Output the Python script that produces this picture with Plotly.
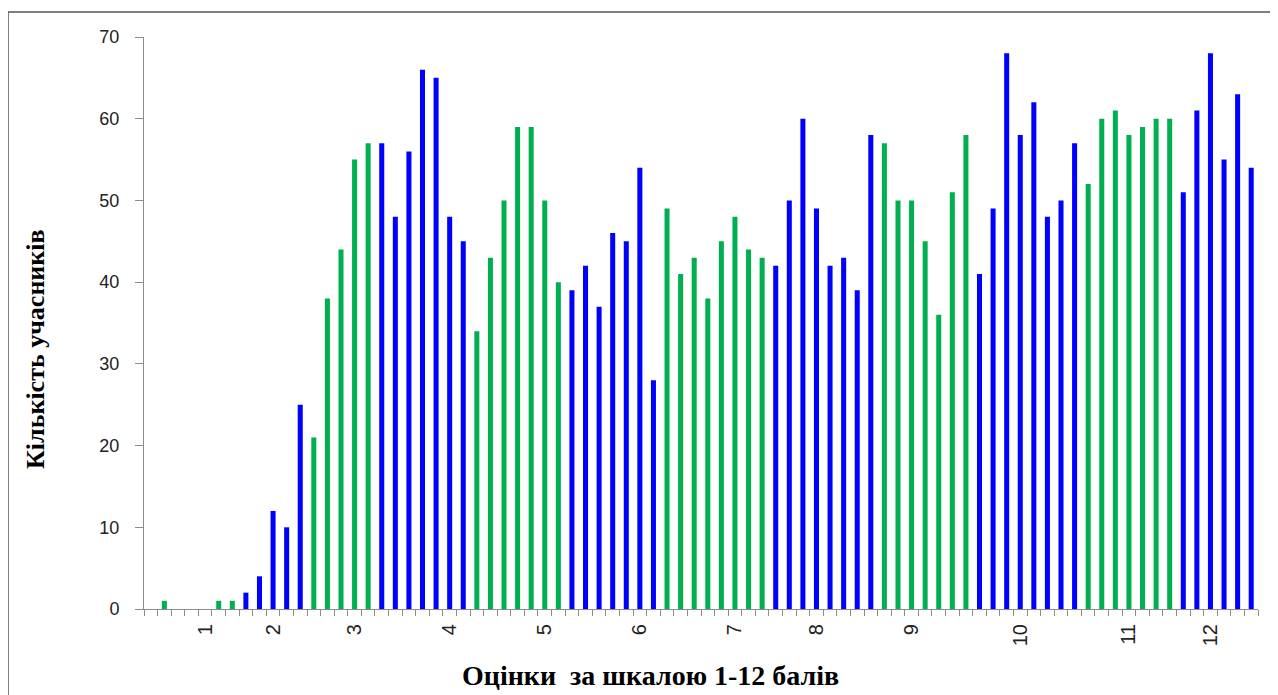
import plotly.graph_objects as go

# ---- data ----
counts = [0, 1, 0, 0, 0, 1, 1,
          2, 4, 12, 10, 25,
          21, 38, 44, 55, 57,
          57, 48, 56, 66, 65, 48, 45,
          34, 43, 50, 59, 59, 50, 40,
          39, 42, 37, 46, 45, 54, 28,
          49, 41, 43, 38, 45, 48, 44, 43,
          42, 50, 60, 49, 42, 43, 39, 58,
          57, 50, 50, 45, 36, 51, 58,
          41, 49, 68, 58, 62, 48, 50, 57,
          52, 60, 61, 58, 59, 60, 60,
          51, 61, 68, 55, 63, 54]
group_runs = [("A", 7), ("B", 5), ("A", 5), ("B", 7), ("A", 7), ("B", 7),
              ("A", 8), ("B", 8), ("A", 7), ("B", 8), ("A", 7), ("B", 6)]
label_categories = [5, 10, 16, 23, 30, 37, 44, 50, 57, 65, 73, 79]
label_texts = ["1", "2", "3", "4", "5", "6", "7", "8", "9", "10", "11", "12"]
y_title = "Кількість учасників"
x_title = "Оцінки  за шкалою 1-12 балів"

groups = [g for g, n in group_runs for _ in range(n)]
color_map = {"A": "#00B050", "B": "#0000FF"}
n = len(counts)
cats = list(range(1, n + 1))

# page has an 8px body margin; compensate so plot area lands where intended
OFF = 8
W, H = 1278, 695
ml, mr, mt, mb = 144 - OFF, 20 + OFF, 37 - OFF, 86 + OFF
pw, ph = W - ml - mr, H - mt - mb

def px_x(p):  # page pixel -> paper x
    return (p - OFF - ml) / pw

def px_y(p):  # page pixel -> paper y
    return (H - mb - (p - OFF)) / ph

fig = go.Figure()
fig.add_trace(go.Bar(
    x=cats, y=counts,
    marker=dict(color=[color_map[g] for g in groups], line=dict(width=0)),
    showlegend=False,
))

axis_gray = "#8c8c8c"
fig.update_layout(
    width=W, height=H,
    margin=dict(l=ml, r=mr, t=mt, b=mb),
    paper_bgcolor="white", plot_bgcolor="white",
    bargap=0.63,
    xaxis=dict(
        range=[0.5, n + 0.5], tickmode="array",
        tickvals=[i + 0.5 for i in range(0, n + 1)],
        showticklabels=False, ticks="outside", ticklen=6, tickcolor=axis_gray,
        showline=True, linecolor=axis_gray, linewidth=1,
        showgrid=False, zeroline=False,
    ),
    xaxis2=dict(
        overlaying="x", anchor="y", side="bottom",
        range=[0.5, n + 0.5], tickmode="array",
        tickvals=label_categories, ticktext=label_texts,
        tickangle=-90, ticks="", showline=False, showgrid=False, zeroline=False,
        tickfont=dict(family="Liberation Sans, Arial", size=20, color="#222222"),
        ticklabelstandoff=10,
    ),
    yaxis=dict(
        range=[0, 70], dtick=10, tick0=0,
        ticks="outside", ticklen=8, tickcolor=axis_gray,
        showline=True, linecolor=axis_gray, linewidth=1,
        showgrid=False, zeroline=False,
        tickfont=dict(family="Liberation Sans, Arial", size=18, color="#222222"),
        ticklabelstandoff=12,
    ),
    font=dict(family="Liberation Sans, Arial"),
)
# invisible trace to activate xaxis2
fig.add_trace(go.Scatter(x=[1], y=[0], xaxis="x2", mode="markers",
                         marker=dict(opacity=0), showlegend=False, hoverinfo="skip"))

fig.add_annotation(
    text="<b>" + y_title + "</b>", textangle=-90,
    xref="paper", yref="paper", x=px_x(35), y=px_y(349),
    showarrow=False, xanchor="center", yanchor="middle",
    font=dict(family="Liberation Serif, Times New Roman", size=26, color="black"),
)
fig.add_annotation(
    text="<b>" + x_title + "</b>",
    xref="paper", yref="paper", x=px_x(650), y=px_y(675),
    showarrow=False, xanchor="center", yanchor="middle",
    font=dict(family="Liberation Serif, Times New Roman", size=28, color="black"),
)
# outer chart frame
fig.add_shape(type="rect", xref="paper", yref="paper",
              x0=px_x(8), x1=px_x(1300), y0=px_y(730), y1=px_y(12),
              line=dict(color="#555555", width=1.5), fillcolor="rgba(0,0,0,0)",
              layer="below")

fig.write_html("out.html")
